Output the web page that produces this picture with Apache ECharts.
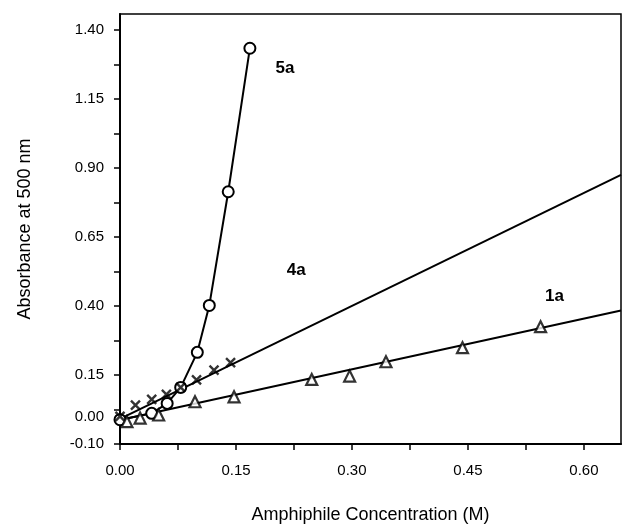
<!DOCTYPE html>
<html>
<head>
<meta charset="utf-8">
<script src="https://cdn.jsdelivr.net/npm/echarts@6/dist/echarts.min.js"></script>
<style>
html,body{margin:0;padding:0;background:#fff;}
#c{width:623px;height:526px;}
</style>
</head>
<body>
<div id="c"></div>
<script>
// ---- data ----
const x5a = [0, 0.041, 0.061, 0.0785, 0.100, 0.1155, 0.140, 0.168];
const y5a = [-0.012, 0.011, 0.047, 0.105, 0.232, 0.402, 0.814, 1.334];

const x4a = [0, 0.020, 0.041, 0.060, 0.0785, 0.099, 0.1216, 0.143];
const y4a = [0, 0.041, 0.062, 0.080, 0.105, 0.132, 0.168, 0.195];

const x1a = [0.009, 0.026, 0.050, 0.097, 0.1475, 0.248, 0.297, 0.344, 0.443, 0.544];
const y1a = [-0.019, -0.006, 0.005, 0.053, 0.071, 0.134, 0.146, 0.198, 0.249, 0.325];

// fitted straight lines (end points)
const fit4aX = [0, 0.648];
const fit4aY = [-0.009, 0.875];
const fit1aX = [0, 0.648];
const fit1aY = [-0.013, 0.384];

// series labels (names and data-space anchor)
const seriesNames = ['5a', '4a', '1a'];
const nameX = [0.2135, 0.228, 0.562];
const nameY = [1.262, 0.530, 0.436];

// axes
const xLabelValues = [0, 0.15, 0.30, 0.45, 0.60];
const xTickValues = [0, 0.075, 0.15, 0.225, 0.30, 0.375, 0.45, 0.525, 0.60];
const yLabelValues = [-0.10, 0.00, 0.15, 0.40, 0.65, 0.90, 1.15, 1.40];
const yTickValues = [-0.10, 0.025, 0.15, 0.275, 0.40, 0.525, 0.65, 0.775, 0.90, 1.025, 1.15, 1.275, 1.40];

const zip = (a, b) => a.map((v, i) => [v, b[i]]);
const FONT = 'Liberation Sans, Arial, Helvetica, sans-serif';

const chart = echarts.init(document.getElementById('c'), null, {renderer: 'canvas'});
chart.setOption({
  animation: false,
  backgroundColor: '#fff',
  grid: {left: 120, right: 2, top: 14, bottom: 82, containLabel: false, outerBoundsMode: 'none',
         show: true, borderColor: '#000', borderWidth: 1.5, backgroundColor: 'transparent'},
  xAxis: {
    type: 'value', min: 0, max: 0.648,
    name: 'Amphiphile Concentration (M)', nameLocation: 'middle', nameGap: 62,
    nameTextStyle: {fontFamily: FONT, fontSize: 18, color: '#000'},
    axisLine: {show: true, onZero: false, lineStyle: {color: '#000', width: 2}},
    axisTick: {show: true, inside: false, length: 6, lineStyle: {color: '#000', width: 1.5}, customValues: xTickValues},
    axisLabel: {customValues: xLabelValues, formatter: v => v.toFixed(2), fontFamily: FONT, fontSize: 15, color: '#000', margin: 19},
    splitLine: {show: false}
  },
  yAxis: {
    type: 'value', min: -0.10, max: 1.458,
    name: 'Absorbance at 500 nm', nameLocation: 'middle', nameGap: 86, nameRotate: 90,
    nameTextStyle: {fontFamily: FONT, fontSize: 18, color: '#000'},
    axisLine: {show: true, onZero: false, lineStyle: {color: '#000', width: 2}},
    axisTick: {show: true, inside: false, length: 6, lineStyle: {color: '#000', width: 1.5}, customValues: yTickValues},
    axisLabel: {customValues: yLabelValues, formatter: v => v.toFixed(2), fontFamily: FONT, fontSize: 15, color: '#000', margin: 16},
    splitLine: {show: false}
  },
  series: [
    {
      name: 'fit1a', type: 'line', data: zip(fit1aX, fit1aY), showSymbol: false, symbol: 'none',
      lineStyle: {color: '#000', width: 2}, z: 2, silent: true
    },
    {
      name: 'fit4a', type: 'line', data: zip(fit4aX, fit4aY), showSymbol: false, symbol: 'none',
      lineStyle: {color: '#000', width: 2}, z: 2, silent: true
    },
    {
      name: '5a', type: 'line', data: zip(x5a, y5a), symbol: 'circle', symbolSize: 11,
      lineStyle: {color: '#000', width: 2}, itemStyle: {color: '#fff', borderColor: '#000', borderWidth: 2}, z: 3
    },
    {
      name: '4a', type: 'scatter', data: zip(x4a, y4a),
      symbol: 'path://M0,0L10,10M10,0L0,10', symbolSize: 9,
      itemStyle: {color: 'transparent', borderColor: '#000', borderWidth: 2.4}, z: 4
    },
    {
      name: '1a', type: 'scatter', data: zip(x1a, y1a), symbol: 'triangle', symbolSize: 11,
      itemStyle: {color: '#fff', borderColor: '#000', borderWidth: 2.2}, z: 4
    },
    {
      name: 'labels', type: 'scatter', symbolSize: 1, silent: true, z: 5,
      itemStyle: {color: 'transparent', opacity: 1},
      emphasis: {disabled: true},
      data: seriesNames.map((n, i) => ({value: [nameX[i], nameY[i]], name: n})),
      label: {show: true, position: 'inside', formatter: p => p.name, fontFamily: FONT, fontSize: 17, fontWeight: 'bold', color: '#000', textBorderWidth: 0, opacity: 1}
    }
  ]
});
</script>
</body>
</html>
